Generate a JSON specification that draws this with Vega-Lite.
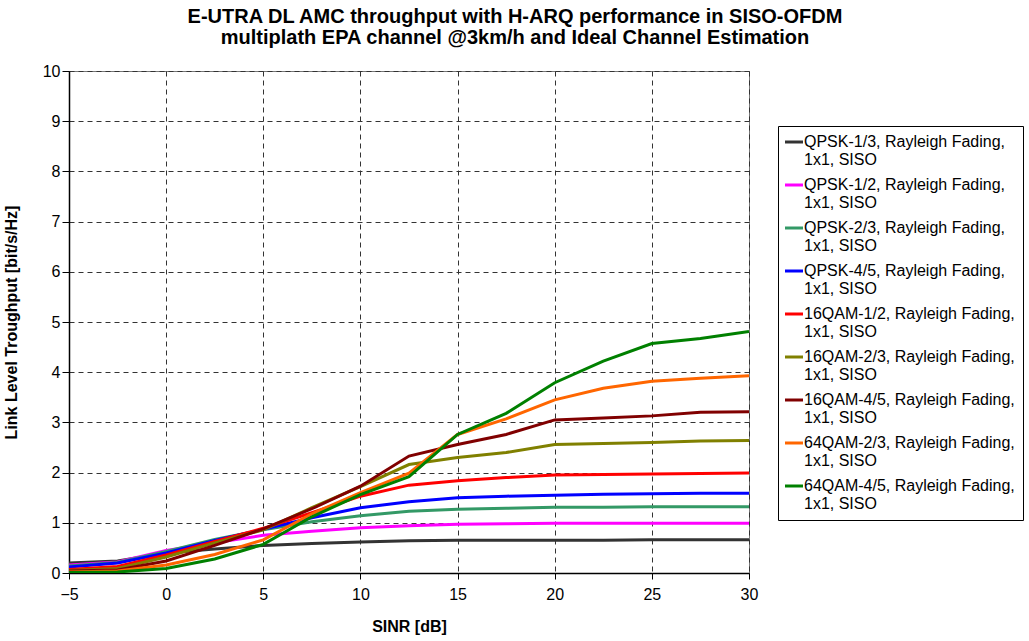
{
  "$schema": "https://vega.github.io/schema/vega-lite/v6.json",
  "width": 680,
  "height": 502,
  "autosize": {"type": "none"},
  "padding": {"left": 69, "top": 71, "right": 280, "bottom": 68},
  "background": "white",
  "title": {
    "text": ["E-UTRA DL AMC throughput with H-ARQ performance in SISO-OFDM", "multiplath EPA channel @3km/h and Ideal Channel Estimation"],
    "font": "Liberation Sans",
    "fontSize": 20,
    "fontWeight": "bold",
    "lineHeight": 21,
    "color": "black",
    "anchor": "middle",
    "dx": 106,
    "offset": 15
  },
  "config": {
    "view": {"stroke": "#777777", "strokeWidth": 1},
    "font": "Liberation Sans",
    "axis": {
      "labelFont": "Liberation Sans",
      "labelFontSize": 16,
      "labelColor": "black",
      "titleFont": "Liberation Sans",
      "titleFontSize": 16,
      "titleFontWeight": "bold",
      "titleColor": "black",
      "domainColor": "black",
      "domainWidth": 1.5,
      "tickColor": "black",
      "tickSize": 6,
      "gridColor": "#333333",
      "gridDash": [5, 4],
      "gridWidth": 1,
      "gridOpacity": 1
    }
  },
  "data": {
    "values": [
      {"series": "QPSK-1/3, Rayleigh Fading, 1x1, SISO", "sinr": -5, "tp": 0.20},
      {"series": "QPSK-1/3, Rayleigh Fading, 1x1, SISO", "sinr": -2.5, "tp": 0.24},
      {"series": "QPSK-1/3, Rayleigh Fading, 1x1, SISO", "sinr": 0, "tp": 0.40},
      {"series": "QPSK-1/3, Rayleigh Fading, 1x1, SISO", "sinr": 2.5, "tp": 0.48},
      {"series": "QPSK-1/3, Rayleigh Fading, 1x1, SISO", "sinr": 5, "tp": 0.55},
      {"series": "QPSK-1/3, Rayleigh Fading, 1x1, SISO", "sinr": 7.5, "tp": 0.59},
      {"series": "QPSK-1/3, Rayleigh Fading, 1x1, SISO", "sinr": 10, "tp": 0.62},
      {"series": "QPSK-1/3, Rayleigh Fading, 1x1, SISO", "sinr": 12.5, "tp": 0.64},
      {"series": "QPSK-1/3, Rayleigh Fading, 1x1, SISO", "sinr": 15, "tp": 0.65},
      {"series": "QPSK-1/3, Rayleigh Fading, 1x1, SISO", "sinr": 17.5, "tp": 0.65},
      {"series": "QPSK-1/3, Rayleigh Fading, 1x1, SISO", "sinr": 20, "tp": 0.65},
      {"series": "QPSK-1/3, Rayleigh Fading, 1x1, SISO", "sinr": 22.5, "tp": 0.65},
      {"series": "QPSK-1/3, Rayleigh Fading, 1x1, SISO", "sinr": 25, "tp": 0.66},
      {"series": "QPSK-1/3, Rayleigh Fading, 1x1, SISO", "sinr": 27.5, "tp": 0.66},
      {"series": "QPSK-1/3, Rayleigh Fading, 1x1, SISO", "sinr": 30, "tp": 0.66},

      {"series": "QPSK-1/2, Rayleigh Fading, 1x1, SISO", "sinr": -5, "tp": 0.16},
      {"series": "QPSK-1/2, Rayleigh Fading, 1x1, SISO", "sinr": -2.5, "tp": 0.22},
      {"series": "QPSK-1/2, Rayleigh Fading, 1x1, SISO", "sinr": 0, "tp": 0.45},
      {"series": "QPSK-1/2, Rayleigh Fading, 1x1, SISO", "sinr": 2.5, "tp": 0.60},
      {"series": "QPSK-1/2, Rayleigh Fading, 1x1, SISO", "sinr": 5, "tp": 0.75},
      {"series": "QPSK-1/2, Rayleigh Fading, 1x1, SISO", "sinr": 7.5, "tp": 0.83},
      {"series": "QPSK-1/2, Rayleigh Fading, 1x1, SISO", "sinr": 10, "tp": 0.90},
      {"series": "QPSK-1/2, Rayleigh Fading, 1x1, SISO", "sinr": 12.5, "tp": 0.94},
      {"series": "QPSK-1/2, Rayleigh Fading, 1x1, SISO", "sinr": 15, "tp": 0.97},
      {"series": "QPSK-1/2, Rayleigh Fading, 1x1, SISO", "sinr": 17.5, "tp": 0.98},
      {"series": "QPSK-1/2, Rayleigh Fading, 1x1, SISO", "sinr": 20, "tp": 0.99},
      {"series": "QPSK-1/2, Rayleigh Fading, 1x1, SISO", "sinr": 22.5, "tp": 0.99},
      {"series": "QPSK-1/2, Rayleigh Fading, 1x1, SISO", "sinr": 25, "tp": 0.99},
      {"series": "QPSK-1/2, Rayleigh Fading, 1x1, SISO", "sinr": 27.5, "tp": 0.99},
      {"series": "QPSK-1/2, Rayleigh Fading, 1x1, SISO", "sinr": 30, "tp": 0.99},

      {"series": "QPSK-2/3, Rayleigh Fading, 1x1, SISO", "sinr": -5, "tp": 0.14},
      {"series": "QPSK-2/3, Rayleigh Fading, 1x1, SISO", "sinr": -2.5, "tp": 0.21},
      {"series": "QPSK-2/3, Rayleigh Fading, 1x1, SISO", "sinr": 0, "tp": 0.43},
      {"series": "QPSK-2/3, Rayleigh Fading, 1x1, SISO", "sinr": 2.5, "tp": 0.67},
      {"series": "QPSK-2/3, Rayleigh Fading, 1x1, SISO", "sinr": 5, "tp": 0.86},
      {"series": "QPSK-2/3, Rayleigh Fading, 1x1, SISO", "sinr": 7.5, "tp": 1.02},
      {"series": "QPSK-2/3, Rayleigh Fading, 1x1, SISO", "sinr": 10, "tp": 1.14},
      {"series": "QPSK-2/3, Rayleigh Fading, 1x1, SISO", "sinr": 12.5, "tp": 1.23},
      {"series": "QPSK-2/3, Rayleigh Fading, 1x1, SISO", "sinr": 15, "tp": 1.27},
      {"series": "QPSK-2/3, Rayleigh Fading, 1x1, SISO", "sinr": 17.5, "tp": 1.29},
      {"series": "QPSK-2/3, Rayleigh Fading, 1x1, SISO", "sinr": 20, "tp": 1.31},
      {"series": "QPSK-2/3, Rayleigh Fading, 1x1, SISO", "sinr": 22.5, "tp": 1.31},
      {"series": "QPSK-2/3, Rayleigh Fading, 1x1, SISO", "sinr": 25, "tp": 1.32},
      {"series": "QPSK-2/3, Rayleigh Fading, 1x1, SISO", "sinr": 27.5, "tp": 1.32},
      {"series": "QPSK-2/3, Rayleigh Fading, 1x1, SISO", "sinr": 30, "tp": 1.32},

      {"series": "QPSK-4/5, Rayleigh Fading, 1x1, SISO", "sinr": -5, "tp": 0.12},
      {"series": "QPSK-4/5, Rayleigh Fading, 1x1, SISO", "sinr": -2.5, "tp": 0.20},
      {"series": "QPSK-4/5, Rayleigh Fading, 1x1, SISO", "sinr": 0, "tp": 0.40},
      {"series": "QPSK-4/5, Rayleigh Fading, 1x1, SISO", "sinr": 2.5, "tp": 0.65},
      {"series": "QPSK-4/5, Rayleigh Fading, 1x1, SISO", "sinr": 5, "tp": 0.87},
      {"series": "QPSK-4/5, Rayleigh Fading, 1x1, SISO", "sinr": 7.5, "tp": 1.10},
      {"series": "QPSK-4/5, Rayleigh Fading, 1x1, SISO", "sinr": 10, "tp": 1.30},
      {"series": "QPSK-4/5, Rayleigh Fading, 1x1, SISO", "sinr": 12.5, "tp": 1.42},
      {"series": "QPSK-4/5, Rayleigh Fading, 1x1, SISO", "sinr": 15, "tp": 1.50},
      {"series": "QPSK-4/5, Rayleigh Fading, 1x1, SISO", "sinr": 17.5, "tp": 1.53},
      {"series": "QPSK-4/5, Rayleigh Fading, 1x1, SISO", "sinr": 20, "tp": 1.55},
      {"series": "QPSK-4/5, Rayleigh Fading, 1x1, SISO", "sinr": 22.5, "tp": 1.57},
      {"series": "QPSK-4/5, Rayleigh Fading, 1x1, SISO", "sinr": 25, "tp": 1.58},
      {"series": "QPSK-4/5, Rayleigh Fading, 1x1, SISO", "sinr": 27.5, "tp": 1.59},
      {"series": "QPSK-4/5, Rayleigh Fading, 1x1, SISO", "sinr": 30, "tp": 1.59},

      {"series": "16QAM-1/2, Rayleigh Fading, 1x1, SISO", "sinr": -5, "tp": 0.07},
      {"series": "16QAM-1/2, Rayleigh Fading, 1x1, SISO", "sinr": -2.5, "tp": 0.13},
      {"series": "16QAM-1/2, Rayleigh Fading, 1x1, SISO", "sinr": 0, "tp": 0.36},
      {"series": "16QAM-1/2, Rayleigh Fading, 1x1, SISO", "sinr": 2.5, "tp": 0.63},
      {"series": "16QAM-1/2, Rayleigh Fading, 1x1, SISO", "sinr": 5, "tp": 0.89},
      {"series": "16QAM-1/2, Rayleigh Fading, 1x1, SISO", "sinr": 7.5, "tp": 1.20},
      {"series": "16QAM-1/2, Rayleigh Fading, 1x1, SISO", "sinr": 10, "tp": 1.53},
      {"series": "16QAM-1/2, Rayleigh Fading, 1x1, SISO", "sinr": 12.5, "tp": 1.75},
      {"series": "16QAM-1/2, Rayleigh Fading, 1x1, SISO", "sinr": 15, "tp": 1.84},
      {"series": "16QAM-1/2, Rayleigh Fading, 1x1, SISO", "sinr": 17.5, "tp": 1.90},
      {"series": "16QAM-1/2, Rayleigh Fading, 1x1, SISO", "sinr": 20, "tp": 1.95},
      {"series": "16QAM-1/2, Rayleigh Fading, 1x1, SISO", "sinr": 22.5, "tp": 1.96},
      {"series": "16QAM-1/2, Rayleigh Fading, 1x1, SISO", "sinr": 25, "tp": 1.97},
      {"series": "16QAM-1/2, Rayleigh Fading, 1x1, SISO", "sinr": 27.5, "tp": 1.98},
      {"series": "16QAM-1/2, Rayleigh Fading, 1x1, SISO", "sinr": 30, "tp": 1.99},

      {"series": "16QAM-2/3, Rayleigh Fading, 1x1, SISO", "sinr": -5, "tp": 0.05},
      {"series": "16QAM-2/3, Rayleigh Fading, 1x1, SISO", "sinr": -2.5, "tp": 0.09},
      {"series": "16QAM-2/3, Rayleigh Fading, 1x1, SISO", "sinr": 0, "tp": 0.32},
      {"series": "16QAM-2/3, Rayleigh Fading, 1x1, SISO", "sinr": 2.5, "tp": 0.60},
      {"series": "16QAM-2/3, Rayleigh Fading, 1x1, SISO", "sinr": 5, "tp": 0.86},
      {"series": "16QAM-2/3, Rayleigh Fading, 1x1, SISO", "sinr": 7.5, "tp": 1.30},
      {"series": "16QAM-2/3, Rayleigh Fading, 1x1, SISO", "sinr": 10, "tp": 1.72},
      {"series": "16QAM-2/3, Rayleigh Fading, 1x1, SISO", "sinr": 12.5, "tp": 2.16},
      {"series": "16QAM-2/3, Rayleigh Fading, 1x1, SISO", "sinr": 15, "tp": 2.30},
      {"series": "16QAM-2/3, Rayleigh Fading, 1x1, SISO", "sinr": 17.5, "tp": 2.40},
      {"series": "16QAM-2/3, Rayleigh Fading, 1x1, SISO", "sinr": 20, "tp": 2.56},
      {"series": "16QAM-2/3, Rayleigh Fading, 1x1, SISO", "sinr": 22.5, "tp": 2.58},
      {"series": "16QAM-2/3, Rayleigh Fading, 1x1, SISO", "sinr": 25, "tp": 2.60},
      {"series": "16QAM-2/3, Rayleigh Fading, 1x1, SISO", "sinr": 27.5, "tp": 2.63},
      {"series": "16QAM-2/3, Rayleigh Fading, 1x1, SISO", "sinr": 30, "tp": 2.64},

      {"series": "16QAM-4/5, Rayleigh Fading, 1x1, SISO", "sinr": -5, "tp": 0.04},
      {"series": "16QAM-4/5, Rayleigh Fading, 1x1, SISO", "sinr": -2.5, "tp": 0.06},
      {"series": "16QAM-4/5, Rayleigh Fading, 1x1, SISO", "sinr": 0, "tp": 0.24},
      {"series": "16QAM-4/5, Rayleigh Fading, 1x1, SISO", "sinr": 2.5, "tp": 0.55},
      {"series": "16QAM-4/5, Rayleigh Fading, 1x1, SISO", "sinr": 5, "tp": 0.88},
      {"series": "16QAM-4/5, Rayleigh Fading, 1x1, SISO", "sinr": 7.5, "tp": 1.28},
      {"series": "16QAM-4/5, Rayleigh Fading, 1x1, SISO", "sinr": 10, "tp": 1.73},
      {"series": "16QAM-4/5, Rayleigh Fading, 1x1, SISO", "sinr": 12.5, "tp": 2.33},
      {"series": "16QAM-4/5, Rayleigh Fading, 1x1, SISO", "sinr": 15, "tp": 2.56},
      {"series": "16QAM-4/5, Rayleigh Fading, 1x1, SISO", "sinr": 17.5, "tp": 2.76},
      {"series": "16QAM-4/5, Rayleigh Fading, 1x1, SISO", "sinr": 20, "tp": 3.05},
      {"series": "16QAM-4/5, Rayleigh Fading, 1x1, SISO", "sinr": 22.5, "tp": 3.09},
      {"series": "16QAM-4/5, Rayleigh Fading, 1x1, SISO", "sinr": 25, "tp": 3.13},
      {"series": "16QAM-4/5, Rayleigh Fading, 1x1, SISO", "sinr": 27.5, "tp": 3.20},
      {"series": "16QAM-4/5, Rayleigh Fading, 1x1, SISO", "sinr": 30, "tp": 3.21},

      {"series": "64QAM-2/3, Rayleigh Fading, 1x1, SISO", "sinr": -5, "tp": 0.02},
      {"series": "64QAM-2/3, Rayleigh Fading, 1x1, SISO", "sinr": -2.5, "tp": 0.04},
      {"series": "64QAM-2/3, Rayleigh Fading, 1x1, SISO", "sinr": 0, "tp": 0.16},
      {"series": "64QAM-2/3, Rayleigh Fading, 1x1, SISO", "sinr": 2.5, "tp": 0.37},
      {"series": "64QAM-2/3, Rayleigh Fading, 1x1, SISO", "sinr": 5, "tp": 0.66},
      {"series": "64QAM-2/3, Rayleigh Fading, 1x1, SISO", "sinr": 7.5, "tp": 1.18},
      {"series": "64QAM-2/3, Rayleigh Fading, 1x1, SISO", "sinr": 10, "tp": 1.60},
      {"series": "64QAM-2/3, Rayleigh Fading, 1x1, SISO", "sinr": 12.5, "tp": 1.99},
      {"series": "64QAM-2/3, Rayleigh Fading, 1x1, SISO", "sinr": 15, "tp": 2.76},
      {"series": "64QAM-2/3, Rayleigh Fading, 1x1, SISO", "sinr": 17.5, "tp": 3.07},
      {"series": "64QAM-2/3, Rayleigh Fading, 1x1, SISO", "sinr": 20, "tp": 3.45},
      {"series": "64QAM-2/3, Rayleigh Fading, 1x1, SISO", "sinr": 22.5, "tp": 3.68},
      {"series": "64QAM-2/3, Rayleigh Fading, 1x1, SISO", "sinr": 25, "tp": 3.82},
      {"series": "64QAM-2/3, Rayleigh Fading, 1x1, SISO", "sinr": 27.5, "tp": 3.88},
      {"series": "64QAM-2/3, Rayleigh Fading, 1x1, SISO", "sinr": 30, "tp": 3.93},

      {"series": "64QAM-4/5, Rayleigh Fading, 1x1, SISO", "sinr": -5, "tp": 0.01},
      {"series": "64QAM-4/5, Rayleigh Fading, 1x1, SISO", "sinr": -2.5, "tp": 0.02},
      {"series": "64QAM-4/5, Rayleigh Fading, 1x1, SISO", "sinr": 0, "tp": 0.09},
      {"series": "64QAM-4/5, Rayleigh Fading, 1x1, SISO", "sinr": 2.5, "tp": 0.28},
      {"series": "64QAM-4/5, Rayleigh Fading, 1x1, SISO", "sinr": 5, "tp": 0.57},
      {"series": "64QAM-4/5, Rayleigh Fading, 1x1, SISO", "sinr": 7.5, "tp": 1.12},
      {"series": "64QAM-4/5, Rayleigh Fading, 1x1, SISO", "sinr": 10, "tp": 1.56},
      {"series": "64QAM-4/5, Rayleigh Fading, 1x1, SISO", "sinr": 12.5, "tp": 1.92},
      {"series": "64QAM-4/5, Rayleigh Fading, 1x1, SISO", "sinr": 15, "tp": 2.76},
      {"series": "64QAM-4/5, Rayleigh Fading, 1x1, SISO", "sinr": 17.5, "tp": 3.18},
      {"series": "64QAM-4/5, Rayleigh Fading, 1x1, SISO", "sinr": 20, "tp": 3.79},
      {"series": "64QAM-4/5, Rayleigh Fading, 1x1, SISO", "sinr": 22.5, "tp": 4.22},
      {"series": "64QAM-4/5, Rayleigh Fading, 1x1, SISO", "sinr": 25, "tp": 4.57},
      {"series": "64QAM-4/5, Rayleigh Fading, 1x1, SISO", "sinr": 27.5, "tp": 4.67},
      {"series": "64QAM-4/5, Rayleigh Fading, 1x1, SISO", "sinr": 30, "tp": 4.81}
    ]
  },
  "mark": {"type": "line", "strokeWidth": 3, "clip": true},
  "encoding": {
    "x": {
      "field": "sinr",
      "type": "quantitative",
      "scale": {"domain": [-5, 30], "nice": false, "zero": false},
      "axis": {"values": [-5, 0, 5, 10, 15, 20, 25, 30], "title": "SINR [dB]", "labelPadding": 7, "titlePadding": 16, "labelFlush": false}
    },
    "y": {
      "field": "tp",
      "type": "quantitative",
      "scale": {"domain": [0, 10], "nice": false},
      "axis": {"values": [0, 1, 2, 3, 4, 5, 6, 7, 8, 9, 10], "title": "Link Level Troughput [bit/s/Hz]", "labelPadding": 2, "titlePadding": 23, "tickSize": 7}
    },
    "color": {
      "field": "series",
      "type": "nominal",
      "scale": {
        "domain": [
          "QPSK-1/3, Rayleigh Fading, 1x1, SISO",
          "QPSK-1/2, Rayleigh Fading, 1x1, SISO",
          "QPSK-2/3, Rayleigh Fading, 1x1, SISO",
          "QPSK-4/5, Rayleigh Fading, 1x1, SISO",
          "16QAM-1/2, Rayleigh Fading, 1x1, SISO",
          "16QAM-2/3, Rayleigh Fading, 1x1, SISO",
          "16QAM-4/5, Rayleigh Fading, 1x1, SISO",
          "64QAM-2/3, Rayleigh Fading, 1x1, SISO",
          "64QAM-4/5, Rayleigh Fading, 1x1, SISO"
        ],
        "range": ["#333333", "#FF00FF", "#339966", "#0000FF", "#FF0000", "#808000", "#800000", "#FF6600", "#008000"]
      },
      "legend": {
        "title": null,
        "orient": "none",
        "legendX": 709,
        "legendY": 55,
        "padding": 8,
        "strokeColor": "black",
        "fillColor": "white",
        "symbolType": "M-9,0L9,0",
        "symbolSize": 4,
        "symbolStrokeWidth": 3,
        "labelFont": "Liberation Sans",
        "labelFontSize": 16,
        "labelColor": "black",
        "labelLimit": 300,
        "labelOffset": 2,
        "labelBaseline": "middle",
        "rowPadding": 9,
        "labelExpr": "[replace(datum.label, ' 1x1, SISO', ''), '1x1, SISO']"
      }
    }
  }
}
